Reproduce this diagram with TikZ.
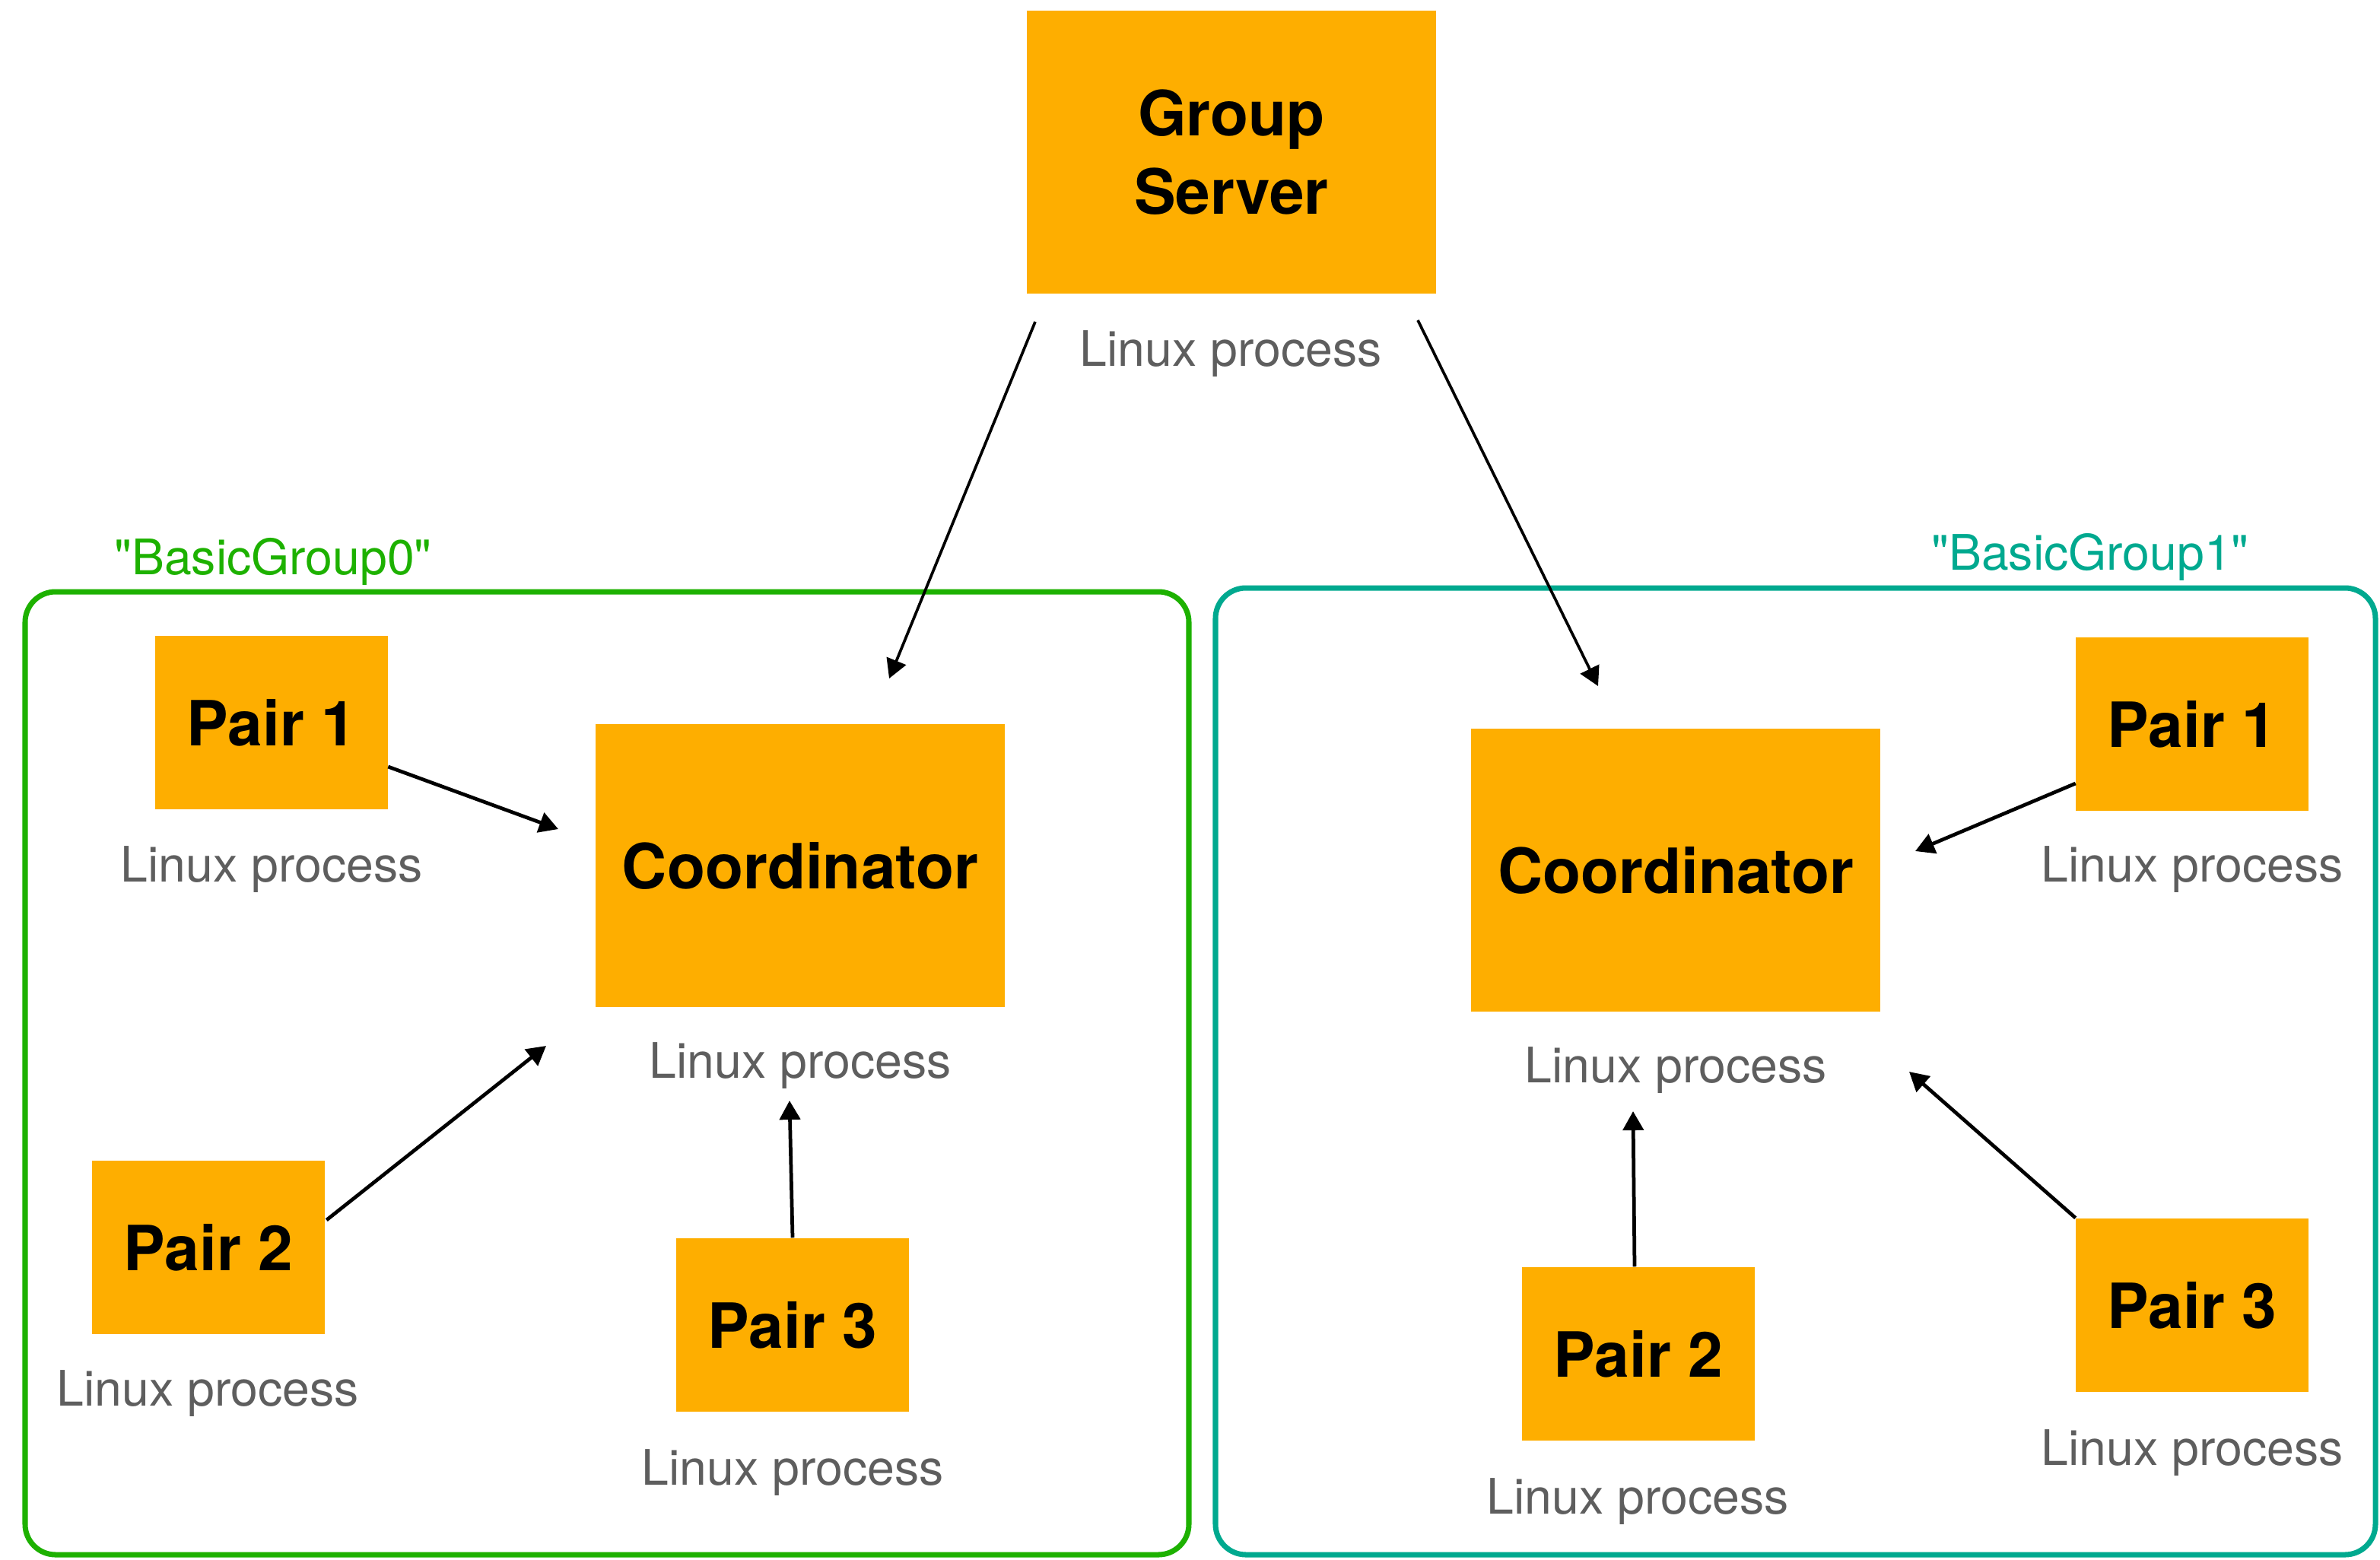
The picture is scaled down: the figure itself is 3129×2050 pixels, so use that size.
\documentclass[tikz,border=0pt]{standalone}
\usepackage{fontspec}
\setmainfont{TeX Gyre Heros}
\usetikzlibrary{arrows.meta,calc}

\definecolor{boxorange}{HTML}{FEAE00}
\definecolor{groupgreen}{HTML}{1DB100}
\definecolor{groupteal}{HTML}{00A98F}
\definecolor{labelgray}{HTML}{5E5E5E}

\tikzset{
  procbox/.style={fill=boxorange, inner sep=0pt, align=center,
    font=\fontsize{23.3}{29.3}\selectfont\bfseries},
  pairbox/.style={procbox, minimum width=3.05cm, minimum height=2.28cm},
  bigbox/.style={procbox, minimum width=5.38cm, minimum height=3.71cm},
  proclabel/.style={text=labelgray, inner sep=0pt, font=\fontsize{18.3}{22}\selectfont},
  grouplabel/.style={inner sep=0pt, font=\fontsize{18.3}{22}\selectfont},
  groupframe/.style={line width=2pt, rounded corners=0.4cm},
  link/.style={line width=1.35pt, -{Triangle[length=0.25cm,width=0.27cm]}}
}

\begin{document}
\begin{tikzpicture}[x={(0.01cm,0)}, y={(0,-0.01cm)}]
  \useasboundingbox (0,0) rectangle (3129,2050);

  % group frames and their names
  \draw[groupframe, groupgreen] (33,778) rectangle (1563,2044);
  \draw[groupframe, groupteal] (1598,773) rectangle (3123,2044);
  \node[grouplabel, text=groupgreen] (g0name) at (359,738) {\textquotedbl BasicGroup0\textquotedbl};
  \node[grouplabel, text=groupteal] (g1name) at (2748,732) {\textquotedbl BasicGroup1\textquotedbl};

  % group server
  \node[bigbox] (gs) at (1619,200) {Group\\Server};
  \node[proclabel] (gsl) at (1618,465) {Linux process};

  % first group
  \node[bigbox] (ca) at (1052,1138) {Coordinator};
  \node[proclabel] (cal) at (1052,1401) {Linux process};
  \node[pairbox] (pa1) at (357,950) {Pair 1};
  \node[proclabel] (pa1l) at (357,1143) {Linux process};
  \node[pairbox] (pa2) at (274,1640) {Pair 2};
  \node[proclabel] (pa2l) at (273,1832) {Linux process};
  \node[pairbox] (pa3) at (1042,1742) {Pair 3};
  \node[proclabel] (pa3l) at (1042,1936) {Linux process};

  % second group
  \node[bigbox] (cb) at (2203,1144) {Coordinator};
  \node[proclabel] (cbl) at (2203,1407) {Linux process};
  \node[pairbox] (pb1) at (2882,952) {Pair 1};
  \node[proclabel] (pb1l) at (2882,1143) {Linux process};
  \node[pairbox] (pb2) at (2154,1780) {Pair 2};
  \node[proclabel] (pb2l) at (2153,1974) {Linux process};
  \node[pairbox] (pb3) at (2882,1716) {Pair 3};
  \node[proclabel] (pb3l) at (2882,1910) {Linux process};

  % free ends of the connectors
  \coordinate (gsoutA) at (1361,423);
  \coordinate (gsoutB) at (1864,421);
  \coordinate (cainS) at (1169,892);
  \coordinate (cainA) at (734,1090);
  \coordinate (cainB) at (718,1375);
  \coordinate (cainC) at (1038,1447);
  \coordinate (cbinS) at (2101,902);
  \coordinate (cbinA) at (2518,1119);
  \coordinate (cbinB) at (2147,1461);
  \coordinate (cbinC) at (2510,1409);

  % connectors
  \draw[link, line width=1.05pt] (gsoutA) -- (cainS);
  \draw[link, line width=1.05pt] (gsoutB) -- (cbinS);
  \draw[link] ($(pa1.east)+(0,58)$) -- (cainA);
  \draw[link] ($(pa2.east)+(2,-36)$) -- (cainB);
  \draw[link] (pa3.north) -- (cainC);
  \draw[link] ($(pb1.west)+(0,78)$) -- (cbinA);
  \draw[link] ($(pb2.north)+(-5,0)$) -- (cbinB);
  \draw[link] (pb3.north west) -- (cbinC);
\end{tikzpicture}
\end{document}
